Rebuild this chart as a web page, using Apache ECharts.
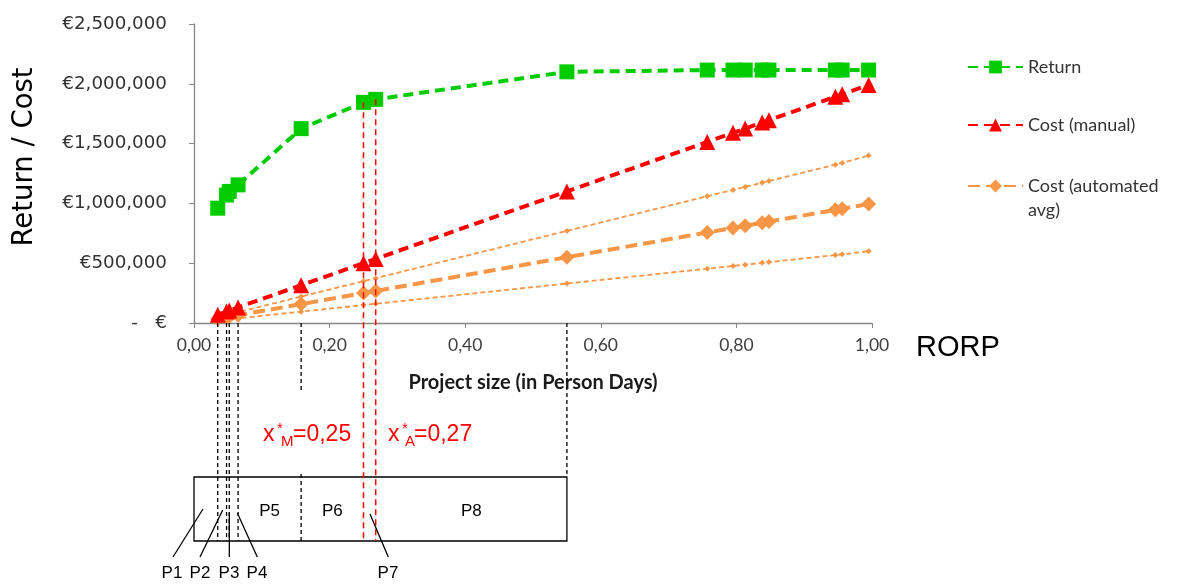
<!DOCTYPE html>
<html><head><meta charset="utf-8">
<script src="https://cdn.jsdelivr.net/npm/echarts@6/dist/echarts.min.js"></script>
<style>html,body{margin:0;padding:0;background:#fff}#c{width:1184px;height:585px}</style>
</head><body><div id="c"></div>
<script>
// ---- data ----
const rorp        = [0.035, 0.048, 0.052, 0.065, 0.158, 0.25, 0.268, 0.55, 0.757, 0.795, 0.813, 0.838, 0.848, 0.946, 0.956, 0.995];
const returnVals  = [960000, 1070000, 1100000, 1155000, 1625000, 1845000, 1870000, 2100000, 2115000, 2115000, 2115000, 2115000, 2115000, 2115000, 2115000, 2115000];
const costManual  = [70000, 96000, 104000, 130000, 316000, 500000, 536000, 1100000, 1514000, 1590000, 1626000, 1676000, 1696000, 1892000, 1912000, 1990000];
const costAutoAvg = [35000, 48000, 52000, 65000, 158000, 250000, 268000, 550000, 757000, 795000, 813000, 838000, 848000, 946000, 956000, 995000];
const costAutoMax = [49000, 67000, 73000, 91000, 221000, 350000, 375000, 770000, 1060000, 1113000, 1138000, 1173000, 1187000, 1324000, 1338000, 1400000];
const costAutoMin = [21000, 29000, 31000, 39000, 95000, 150000, 161000, 330000, 454000, 477000, 488000, 503000, 509000, 568000, 574000, 600000];
const partitionBounds = [0.035, 0.048, 0.052, 0.065, 0.158, 0.55];
const optimumX = [0.25, 0.268];
const optimumReturn = [1845000, 1870000];
const boxLabels = ['P5', 'P6', 'P8'];
const calloutLabels = ['P1', 'P2', 'P3', 'P4', 'P7'];
const legendNames = ['Return', 'Cost (manual)', 'Cost (automated avg)'];

const pairs = v => rorp.map((x, i) => [x, v[i]]);
const GREEN = '#00CC00', RED = '#FF0000', ORANGE = '#F79646';

const chart = echarts.init(document.getElementById('c'), null, {renderer: 'canvas'});
chart.setOption({
  animation: false,
  backgroundColor: '#fff',
  grid: {left: 194, right: 312, top: 24, bottom: 262},
  xAxis: {
    type: 'value', min: 0, max: 1, interval: 0.2,
    axisLine: {lineStyle: {color: '#868686', width: 1.3}},
    axisTick: {show: true, length: 5, lineStyle: {color: '#868686'}},
    splitLine: {show: false},
    axisLabel: {margin: 13, color: '#404040', fontFamily: 'Lato', fontSize: 17.5,
      formatter: v => v.toFixed(2).replace('.', ',')}
  },
  yAxis: {
    type: 'value', min: 0, max: 2500000, interval: 500000,
    axisLine: {show: true, lineStyle: {color: '#868686', width: 1.3}},
    axisTick: {show: true, length: 5, lineStyle: {color: '#868686'}},
    splitLine: {show: false},
    axisLabel: {margin: 27, color: '#333333', fontFamily: 'DejaVu Sans', fontSize: 18.3,
      formatter: v => v === 0 ? '-   €' : '€' + v.toLocaleString('en-US')}
  },
  legend: [{
    orient: 'vertical', left: 962, top: 53, itemWidth: 55, itemHeight: 16, itemGap: 40,
    data: [legendNames[0], legendNames[1]],
    textStyle: {fontFamily: 'Lato', fontSize: 18, color: '#333333'}
  }, {
    orient: 'vertical', left: 962, top: 145, itemWidth: 55, itemHeight: 16,
    data: [legendNames[2]],
    formatter: () => ' \nCost (automated\navg)',
    textStyle: {fontFamily: 'Lato', fontSize: 18, color: '#333333', lineHeight: 24}
  }],
  series: [
    {name: 'Cost (automated min)', type: 'line', data: pairs(costAutoMin), symbol: 'diamond', symbolSize: 6,
     itemStyle: {color: ORANGE}, lineStyle: {color: ORANGE, width: 1.8, type: [5, 3]}, z: 2},
    {name: 'Cost (automated max)', type: 'line', data: pairs(costAutoMax), symbol: 'diamond', symbolSize: 6,
     itemStyle: {color: ORANGE}, lineStyle: {color: ORANGE, width: 1.8, type: [5, 3]}, z: 2},
    {name: legendNames[2], type: 'line', data: pairs(costAutoAvg), symbol: 'diamond', symbolSize: 15,
     itemStyle: {color: ORANGE}, lineStyle: {color: ORANGE, width: 4, type: [12, 6]}, z: 3},
    {name: legendNames[1], type: 'line', data: pairs(costManual), symbol: 'triangle', symbolSize: 16,
     itemStyle: {color: RED}, lineStyle: {color: RED, width: 4, type: [10, 6]}, z: 4},
    {name: legendNames[0], type: 'line', data: pairs(returnVals), symbol: 'rect', symbolSize: 15,
     itemStyle: {color: GREEN}, lineStyle: {color: GREEN, width: 4, type: [10, 6]}, z: 5}
  ]
});

// ---- annotations below the chart, positioned through the axes ----
const px = (x, y) => chart.convertToPixel({gridIndex: 0}, [x, y]);
const axisY = px(0, 0)[1];
const boxTop = 477, boxBottom = 541;
const g = [];
const dashLine = (x1, y1, x2, y2, color, dash, w) => g.push({type: 'line', silent: true, z: 10,
  shape: {x1, y1, x2, y2}, style: {stroke: color, lineWidth: w, lineDash: dash}});
const txt = (text, x, y, font, color, align, extra) => g.push(Object.assign({type: 'text', silent: true, z: 11, x, y,
  style: {text, font, fill: color, align: align || 'center', verticalAlign: 'middle'}}, extra || {}));

const bx0 = px(0, 0)[0], bx1 = px(partitionBounds[5], 0)[0];
g.push({type: 'rect', silent: true, z: 10, shape: {x: bx0, y: boxTop, width: bx1 - bx0, height: boxBottom - boxTop},
  style: {fill: 'none', stroke: '#000', lineWidth: 1.3}});
partitionBounds.forEach((b, i) => {
  const x = px(b, 0)[0];
  if (i === 5) { dashLine(x, axisY, x, boxTop, '#000', [4, 3], 1.3); }
  else if (i === 4) { dashLine(x, axisY, x, 393, '#000', [4, 3], 1.3); dashLine(x, 474, x, boxBottom, '#000', [4, 3], 1.3); }
  else { dashLine(x, axisY, x, boxBottom, '#000', [4, 3], 1.3); }
});
optimumX.forEach((o, i) => {
  const p = px(o, optimumReturn[i]);
  dashLine(p[0], p[1], p[0], boxBottom, RED, [6, 4], 1.5);
});
// labels inside the box
const bpx = partitionBounds.map(b => px(b, 0)[0]);
const opx = optimumX.map(o => px(o, 0)[0]);
const LBL = '17px "Liberation Sans"';
txt(boxLabels[0], (bpx[3] + bpx[4]) / 2, 511, LBL, '#000');
txt(boxLabels[1], (bpx[4] + opx[0]) / 2, 511, LBL, '#000');
txt(boxLabels[2], (opx[1] + bpx[5]) / 2, 511, LBL, '#000');
// callouts
const callouts = [[173, 557, 203, 509, 172], [200, 557, 222.7, 510, 200], [229.3, 557, 229.3, 513, 229],
                  [257.3, 557, 237.3, 513, 257], [388.3, 557, 370, 514, 388]];
callouts.forEach((c, i) => {
  g.push({type: 'line', silent: true, z: 10, shape: {x1: c[0], y1: c[1], x2: c[2], y2: c[3]}, style: {stroke: '#000', lineWidth: 1.3}});
  txt(calloutLabels[i], c[4], 573, LBL, '#000');
});
// x*M / x*A labels
const BIG = '23px "Liberation Sans"', SM = '15px "Liberation Sans"';
txt('x', 263, 434.6, BIG, RED, 'left'); txt('*', 277, 429, SM, RED, 'left');
txt('M', 281, 441.7, SM, RED, 'left'); txt('=0,25', 293, 434.6, BIG, RED, 'left');
txt('x', 388, 434.6, BIG, RED, 'left'); txt('*', 402, 429, SM, RED, 'left');
txt('A', 405, 441.7, SM, RED, 'left'); txt('=0,27', 414, 434.6, BIG, RED, 'left');
// axis titles
txt('RORP', 958, 348, '29px "Liberation Sans"', '#000');
txt('Project size (in Person Days)', 533, 383, 'bold 20px Lato', '#1a1a1a');
txt('Return / Cost', 25, 157, '27.5px "DejaVu Sans"', '#000', 'center', {rotation: Math.PI / 2});

chart.setOption({graphic: {elements: g}});
</script></body></html>
